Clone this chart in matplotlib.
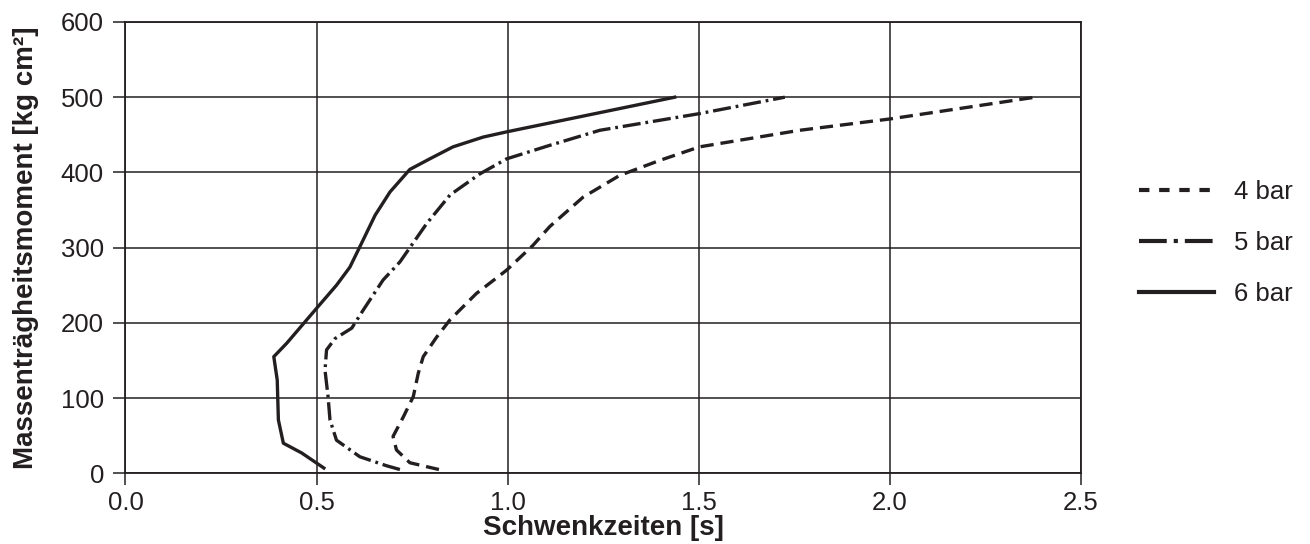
import matplotlib
matplotlib.use('Agg')
import matplotlib.pyplot as plt
from matplotlib.lines import Line2D

plt.rcParams['font.family'] = ['Liberation Sans', 'DejaVu Sans']
plt.rcParams['lines.scale_dashes'] = False

INK = '#231f20'

# 4 bar
t4 = [0.82, 0.744, 0.709, 0.700, 0.727, 0.753, 0.766, 0.779, 0.814, 0.849,
      0.918, 0.997, 1.066, 1.110, 1.197, 1.293, 1.398, 1.502, 1.764, 1.999, 2.38]
m4 = [5, 14, 31, 49, 75, 102, 133, 155, 181, 204,
      239, 270, 303, 328, 367, 396, 416, 434, 456, 471, 500]
# 5 bar
t5 = [0.718, 0.683, 0.613, 0.552, 0.535, 0.530, 0.522, 0.526, 0.548, 0.592,
      0.622, 0.674, 0.718, 0.788, 0.849, 0.927, 0.997, 1.110, 1.241, 1.50, 1.725]
m5 = [5, 10, 22, 44, 71, 102, 137, 164, 179, 193,
      217, 257, 281, 332, 370, 398, 418, 436, 456, 478, 500]
# 6 bar
t6 = [0.519, 0.461, 0.413, 0.400, 0.397, 0.388, 0.422, 0.496, 0.552, 0.587,
      0.613, 0.653, 0.692, 0.744, 0.796, 0.857, 0.936, 0.998, 1.437]
m6 = [7, 27, 40, 71, 124, 155, 173, 217, 250, 274,
      301, 343, 374, 404, 418, 434, 447, 454, 500]

labels = ['4 bar', '5 bar', '6 bar']

fig = plt.figure(figsize=(13.1, 5.44), dpi=100)
ax = fig.add_axes([0.0958, 0.130, 0.7294, 0.8296])

ax.plot(t4, m4, color=INK, lw=2.4, dashes=(9.5, 5))
ax.plot(t5, m5, color=INK, lw=2.4, dashes=(13, 3.5, 2, 3.5))
ax.plot(t6, m6, color=INK, lw=2.4)

ax.set_xlim(0, 2.5)
ax.set_ylim(0, 600)
ax.set_xticks([0.0, 0.5, 1.0, 1.5, 2.0, 2.5])
ax.set_xticklabels(['0.0', '0.5', '1.0', '1.5', '2.0', '2.5'])
ax.set_yticks(range(0, 601, 100))
ax.grid(True, color=INK, lw=1.1)
ax.set_axisbelow(True)
for s in ax.spines.values():
    s.set_color(INK)
    s.set_linewidth(1.3)
ax.tick_params(axis='both', labelsize=18.5, colors=INK, length=8.5, width=1.1,
               pad=4)
ax.tick_params(axis='y', pad=7)
ax.set_xlabel('Schwenkzeiten [s]', fontsize=20, fontweight='bold', color=INK,
              labelpad=0)
ax.set_ylabel('Massenträgheitsmoment [kg cm²]', fontsize=20,
              fontweight='bold', color=INK, labelpad=16)

# legend uses its own (shorter) dash pattern like the original
handles = [
    Line2D([], [], color=INK, lw=3, dashes=(7.5, 7)),
    Line2D([], [], color=INK, lw=3, dashes=(20, 5, 3, 5)),
    Line2D([], [], color=INK, lw=3),
]
ax.legend(handles, labels, loc='center left', bbox_to_anchor=(1.061, 0.51),
          frameon=False, fontsize=18.5, handlelength=2.9, handletextpad=0.8,
          labelspacing=1.05, borderpad=0, borderaxespad=0, labelcolor=INK)

fig.savefig('out.png', dpi=100)
